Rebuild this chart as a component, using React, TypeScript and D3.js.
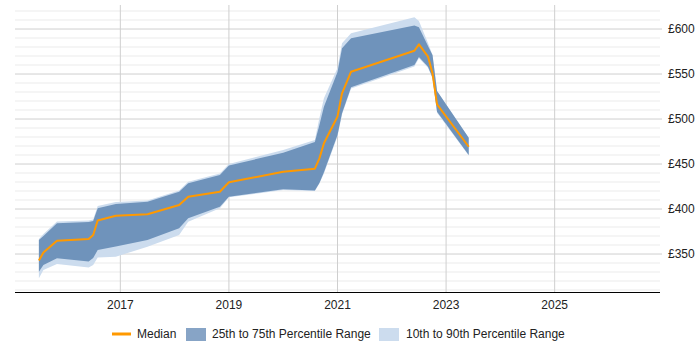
import React from 'react';
import * as d3 from 'd3';

// monthly sample points, "YYYY-MM"
const months = [
  '2015-07', '2015-08', '2015-11', '2016-06', '2016-07', '2016-08', '2016-12',
  '2017-07', '2018-02', '2018-04', '2018-11', '2019-01', '2020-01', '2020-08',
  '2020-09', '2020-10', '2021-01', '2021-02', '2021-04', '2022-06', '2022-07',
  '2022-09', '2022-10', '2022-11', '2023-06',
];

const median = [
  342.8, 351.7, 364.8, 366.7, 371.1, 387.2, 392.6, 394.1, 404.4, 413.7, 419.2,
  429.7, 441.4, 444.8, 456.3, 473, 502.8, 528.6, 552.6, 575.9, 583, 569.4,
  550.8, 516.3, 469.2,
];
const p25 = [
  330.3, 337.8, 345.2, 341.7, 345.6, 354.4, 358.3, 365.6, 378.6, 389.7, 402.6,
  413.7, 421.9, 420.6, 428.9, 440.8, 482.2, 506.3, 535.2, 560, 568.9, 558.1,
  546.1, 508.1, 460,
];
const p75 = [
  365.6, 370, 384.1, 385.6, 386.7, 400.8, 405.6, 408.1, 419.2, 428.6, 437.8,
  448.3, 462.6, 474.4, 493.3, 513.7, 552.2, 578.6, 589.7, 604, 602, 581.1,
  571.1, 531.1, 479.2,
];
const p10 = [
  323, 332.2, 338.9, 335, 337.8, 346, 347, 358.1, 371.1, 385.9, 400.8, 413,
  421.1, 420, 428.3, 439.5, 481, 505, 534, 558.5, 567.5, 557, 545, 507, 459.5,
];
const p90 = [
  366.7, 372.2, 386.1, 387.2, 388.3, 403.3, 407.8, 409.4, 420.6, 430.3, 439.4,
  450, 465.6, 476.7, 501.1, 523, 556.7, 584.1, 595.2, 613, 609, 584.4,
  571.1, 531.1, 479.2,
];

const yearTicks = [2017, 2019, 2021, 2023, 2025];
const rateTicks = [350, 400, 450, 500, 550, 600];
const legendLabels = ['Median', '25th to 75th Percentile Range', '10th to 90th Percentile Range'];

const W = 700;
const H = 350;
const plot = { left: 15, right: 660, top: 5, bottom: 292 };
const FONT = "Arial, 'Liberation Sans', sans-serif";

const toYear = (m: string) => {
  const [y, mo] = m.split('-').map(Number);
  return y + (mo - 1) / 12;
};

type Row = { t: number; med: number; lo25: number; hi75: number; lo10: number; hi90: number };

const rows: Row[] = months.map((m, i) => ({
  t: toYear(m),
  med: median[i],
  lo25: p25[i],
  hi75: p75[i],
  lo10: p10[i],
  hi90: p90[i],
}));

export default function App() {
  const x = d3.scaleLinear().domain([2015.06, 2026.94]).range([plot.left, plot.right]);
  const y = d3.scaleLinear().domain([307.8, 626.7]).range([plot.bottom, plot.top]);

  const outer = d3
    .area<Row>()
    .x((d) => x(d.t))
    .y0((d) => y(d.lo10))
    .y1((d) => y(d.hi90));
  const inner = d3
    .area<Row>()
    .x((d) => x(d.t))
    .y0((d) => y(d.lo25))
    .y1((d) => y(d.hi75));
  const line = d3
    .line<Row>()
    .x((d) => x(d.t))
    .y((d) => y(d.med));

  const minor = d3.range(310, 627, 10).filter((v) => v % 50 !== 0);

  return (
    <svg
      width={W}
      height={H}
      style={{ position: 'absolute', left: 0, top: 0, background: '#fff' }}
      fontFamily={FONT}
    >
      {/* horizontal grid */}
      {minor.map((v) => (
        <line key={'m' + v} x1={plot.left} x2={plot.right} y1={y(v)} y2={y(v)} stroke="#ebebeb" strokeWidth={1} />
      ))}
      {rateTicks.map((v) => (
        <line key={'M' + v} x1={plot.left} x2={plot.right + 2} y1={y(v)} y2={y(v)} stroke="#cfcfcf" strokeWidth={1} />
      ))}
      {/* vertical grid */}
      {yearTicks.map((yr) => (
        <line key={'v' + yr} x1={x(yr)} x2={x(yr)} y1={plot.top} y2={plot.bottom} stroke="#cfcfcf" strokeWidth={1} />
      ))}

      <path d={outer(rows) ?? ''} fill="#ccdcee" />
      <path d={inner(rows) ?? ''} fill="#6f93bb" />
      <path d={line(rows) ?? ''} fill="none" stroke="#ff9900" strokeWidth={2} strokeLinejoin="round" />

      {/* x axis */}
      <line x1={plot.left} x2={plot.right} y1={plot.bottom + 0.5} y2={plot.bottom + 0.5} stroke="#000" strokeWidth={1} />
      {yearTicks.map((yr) => (
        <text key={'xl' + yr} x={x(yr)} y={309} textAnchor="middle" fontSize={12} fill="#222">
          {yr}
        </text>
      ))}

      {/* y labels on the right */}
      {rateTicks.map((v) => (
        <text key={'yl' + v} x={668} y={y(v) + 4} fontSize={12} fill="#222">
          {'£' + v}
        </text>
      ))}

      {/* legend */}
      <g fontSize={12} fill="#222">
        <line x1={112} x2={131} y1={334} y2={334} stroke="#ff9900" strokeWidth={3} />
        <text x={137} y={338}>{legendLabels[0]}</text>
        <rect x={186} y={328} width={20} height={13} fill="#87a4c6" />
        <text x={212} y={338}>{legendLabels[1]}</text>
        <rect x={379} y={328} width={20} height={13} fill="#ccdcee" />
        <text x={406} y={338}>{legendLabels[2]}</text>
      </g>
    </svg>
  );
}
